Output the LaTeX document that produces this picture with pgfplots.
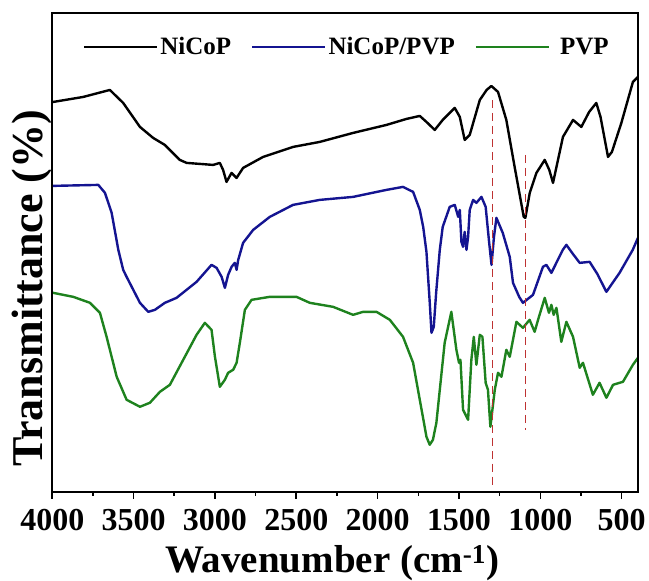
\documentclass[border=0pt]{standalone}
\usepackage{fontspec}
\setmainfont{Liberation Serif}
\usepackage{pgfplots}
\pgfplotsset{compat=1.18}
\definecolor{cblue}{RGB}{20,20,145}
\definecolor{cgreen}{RGB}{30,130,30}
\definecolor{cred}{RGB}{190,50,50}
\begin{document}
\begin{tikzpicture}
\begin{axis}[
  scale only axis,
  width=586pt, height=479pt,
  xmin=400, xmax=4000, x dir=reverse,
  ymin=0, ymax=479,
  xtick={500,1000,...,4000},
  minor x tick num=1,
  ytick=\empty,
  xtick pos=bottom,
  tick align=outside,
  major tick length=7pt,
  minor tick length=4pt,
  every tick/.style={black, line width=1.6pt},
  axis line style={line width=1.6pt},
  /pgf/number format/assume math mode=true,
  /pgf/number format/1000 sep={},
  ticklabel style={font=\fontsize{32}{36}\selectfont\bfseries},
  xticklabel style={yshift=-7pt},
  xlabel={Wavenumber (cm\textsuperscript{-1})},
  xlabel style={font=\fontsize{39}{43}\selectfont\bfseries, inner sep=0pt,
    at={(rel axis cs:0.5,0)}, anchor=base, yshift=-81pt, xshift=-13pt},
  ylabel={Transmittance (\%)},
  ylabel style={font=\fontsize{44}{48}\selectfont\bfseries, inner sep=0pt,
    at={(rel axis cs:0,0.425)}, anchor=base, yshift=10pt},
  legend columns=3,
  legend style={at={(0.503,0.929)}, anchor=center, draw=none, fill=none,
    font=\fontsize{25}{29}\selectfont\bfseries,
    /tikz/every even column/.append style={column sep=18pt}},
  legend image code/.code={\draw[#1] (0pt,0pt) -- (73pt,0pt);},
]
\addplot[black, line width=2.4pt, line join=round] coordinates {
(4000,390) (3994,390) (3810,395) (3646,402) (3564,389) (3461,365) (3380,354)
(3308,347) (3216,332) (3174,329) (3011,327) (2970,329) (2950,322) (2929,310)
(2898,319) (2867,314) (2827,324) (2704,335) (2520,345) (2356,350) (2151,359)
(1946,367) (1823,373) (1741,376) (1700,370) (1649,362) (1600,372) (1526,384)
(1495,375) (1465,352) (1434,357) (1372,392) (1330,402) (1301,406) (1260,400)
(1209,372) (1158,325) (1102,275) (1092,274) (1065,299) (1024,319) (973,332)
(945,322) (922,309) (861,355) (799,372) (748,365) (700,380) (656,389) (630,375)
(584,335) (560,340) (502,369) (431,410) (400,415)
};
\addlegendentry{NiCoP}
\addplot[cblue, line width=2.4pt, line join=round] coordinates {
(4000,306) (3717,307) (3676,299) (3635,279) (3594,242) (3564,222) (3543,215)
(3461,189) (3410,180) (3369,182) (3308,189) (3236,194) (3113,210) (3021,227)
(2990,224) (2959,215) (2939,204) (2919,217) (2898,225) (2878,229) (2867,222)
(2857,232) (2827,249) (2765,262) (2663,275) (2520,287) (2356,292) (2151,295)
(1946,302) (1844,305) (1782,300) (1741,282) (1720,265) (1700,240) (1680,190)
(1669,159) (1655,165) (1640,200) (1618,242) (1600,265) (1557,285) (1526,287)
(1505,275) (1495,282) (1485,250) (1475,245) (1465,260) (1454,242) (1444,255)
(1434,282) (1413,292) (1393,289) (1362,295) (1336,285) (1315,250) (1300,227)
(1285,255) (1270,274) (1231,259) (1188,235) (1168,209) (1130,195) (1107,189)
(1045,197) (984,225) (963,227) (932,219) (862,242) (840,247) (800,238)
(758,229) (697,230) (650,218) (594,200) (560,208) (513,219) (432,242) (400,254)
};
\addlegendentry{NiCoP/PVP\hspace{8pt}}
\addplot[cgreen, line width=2.4pt, line join=round] coordinates {
(4000,199) (3994,199) (3871,195) (3768,189) (3707,179) (3666,155) (3604,115)
(3543,92) (3461,85) (3400,89) (3338,100) (3277,107) (3195,132) (3113,157)
(3062,169) (3021,162) (3000,135) (2970,105) (2939,112) (2919,119) (2888,122)
(2867,129) (2847,149) (2816,182) (2775,192) (2663,195) (2499,195) (2417,189)
(2274,185) (2151,177) (2089,180) (2007,180) (1925,172) (1844,155) (1782,129)
(1741,92) (1722,75) (1700,55) (1680,47) (1660,52) (1639,69) (1588,149) (1547,180)
(1516,142) (1500,129) (1491,132) (1475,82) (1444,72) (1424,132) (1409,155)
(1393,127) (1372,157) (1356,155) (1336,109) (1322,102) (1307,65) (1280,102)
(1260,119) (1239,115) (1209,142) (1188,135) (1147,170) (1107,164) (1066,172)
(1035,160) (1014,172) (973,194) (947,179) (932,187) (918,177) (901,184)
(871,150) (840,170) (799,155) (758,124) (738,129) (677,97) (636,109) (594,94)
(553,107) (492,110) (431,127) (400,134)
};
\addlegendentry{\hspace{8pt}PVP}
\addplot[cred, line width=1.6pt, dash pattern=on 8pt off 5pt, forget plot] coordinates {(1295,392) (1295,7)};
\addplot[cred, line width=1.6pt, dash pattern=on 8pt off 5pt, forget plot] coordinates {(1092,337) (1092,62)};
\end{axis}
\draw[line width=1.8pt] (current axis.south west) rectangle (current axis.north east);
\path (current axis.south west) ++(-52.3pt,-89pt) rectangle ++(649pt,581pt);
\end{tikzpicture}
\end{document}
